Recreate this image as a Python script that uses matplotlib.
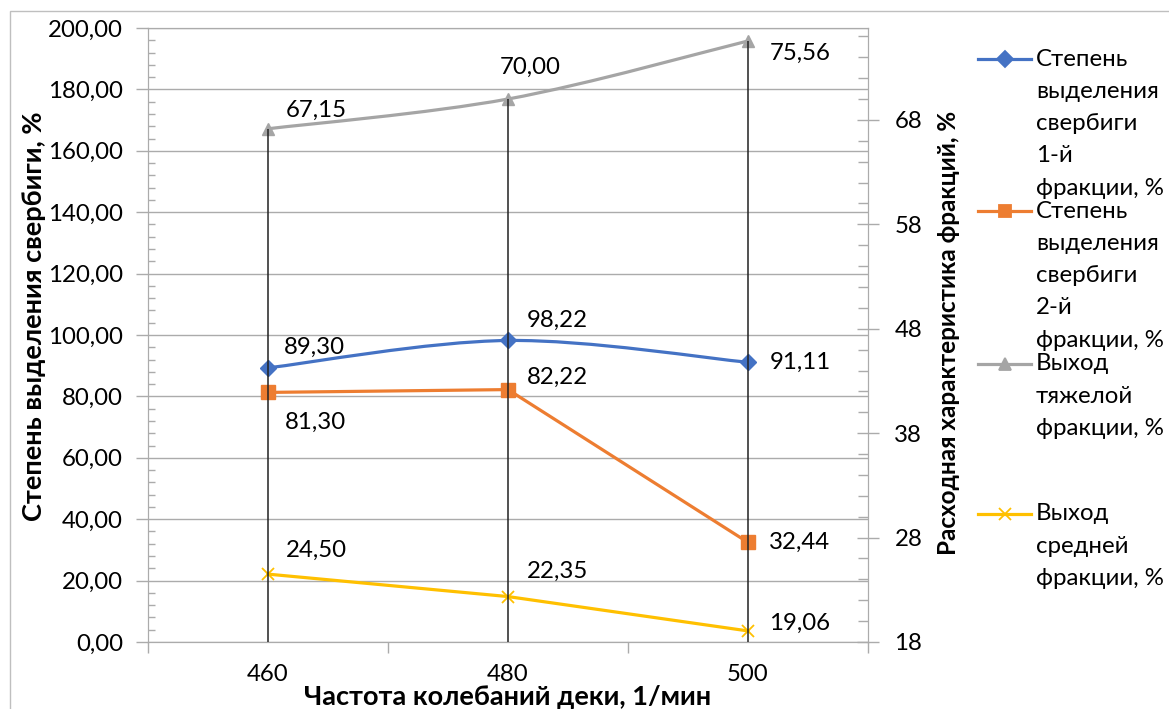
import matplotlib
matplotlib.use("Agg")
import matplotlib.pyplot as plt
import numpy as np
from matplotlib.path import Path
from matplotlib.patches import PathPatch, Rectangle
from matplotlib.lines import Line2D
from matplotlib.ticker import MultipleLocator, FixedLocator, FuncFormatter

plt.rcParams['font.family'] = ['Lato', 'DejaVu Sans']

# data
freq = ["460", "480", "500"]
stage1 = [89.30, 98.22, 91.11]     # left axis
stage2 = [81.30, 82.22, 32.44]     # left axis
heavy = [67.15, 70.00, 75.56]      # right axis
middle = [24.50, 22.35, 19.06]     # right axis

legend_lines = [["Степень", "выделения", "свербиги", "1-й", "фракции, %"],
                ["Степень", "выделения", "свербиги", "2-й", "фракции, %"],
                ["Выход", "тяжелой", "фракции, %"],
                ["Выход", "средней", "фракции, %"]]

BLUE, ORANGE, GRAY, YELLOW = "#4472C4", "#ED7D31", "#A5A5A5", "#FFC000"
W, H, DPI = 1169, 709, 100
FS = 17.3


def smooth_path(x, y):
    # cubic bezier through the points (Excel-like smoothed line)
    x = np.asarray(x, float); y = np.asarray(y, float)
    px = np.r_[x[0], x, x[-1]]; py = np.r_[y[0], y, y[-1]]
    verts = [(x[0], y[0])]
    codes = [Path.MOVETO]
    for i in range(1, len(x)):
        c1 = (px[i] + (px[i + 1] - px[i - 1]) / 6, py[i] + (py[i + 1] - py[i - 1]) / 6)
        c2 = (px[i + 1] - (px[i + 2] - px[i]) / 6, py[i + 1] - (py[i + 2] - py[i]) / 6)
        verts += [c1, c2, (x[i], y[i])]
        codes += [Path.CURVE4] * 3
    return Path(verts, codes)


fig = plt.figure(figsize=(W / DPI, H / DPI), dpi=DPI)
ax = fig.add_axes([148 / W, 1 - 642 / H, 720 / W, 614 / H])
ax2 = ax.twinx()

xs = np.arange(len(freq))

# left axis series
ax.add_patch(PathPatch(smooth_path(xs, stage1), fill=False, ec=BLUE, lw=2.3, zorder=3))
ax.plot(xs, stage1, ls="none", marker="D", ms=8, color=BLUE, zorder=4)
ax.plot(xs, stage2, color=ORANGE, lw=2.3, marker="s", ms=10, zorder=3)

# right axis series
ax2.vlines(xs, 18, heavy, color="#222222", lw=1.1, zorder=5)
ax2.add_patch(PathPatch(smooth_path(xs, heavy), fill=False, ec=GRAY, lw=2.3, zorder=3))
ax2.plot(xs, heavy, ls="none", marker="^", ms=9, color=GRAY, zorder=4)
ax2.plot(xs, middle, color=YELLOW, lw=2.3, marker="x", ms=9, mew=1.3, zorder=3)

# data labels (offsets in pixels)
def fmt(v):
    return f"{v:.2f}".replace(".", ",")

lab_off = {
    0: (ax, stage1, [(46, 21), (49, 20), (52, 0)]),
    1: (ax, stage2, [(47, -30), (49, 12), (52, 0)]),
    2: (ax2, heavy, [(48, 18), (22, 32), (52, -12)]),
    3: (ax2, middle, [(48, 24), (49, 25), (52, 8)]),
}
for k, (a, vals, offs) in lab_off.items():
    for i, v in enumerate(vals):
        a.annotate(fmt(v), (xs[i], v), xytext=offs[i], textcoords="offset pixels",
                   ha="center", va="center", fontsize=FS, color="#000000", zorder=6)

# left axis
ax.set_xlim(-0.5, 2.5)
ax.set_ylim(0, 200)
ax.yaxis.set_major_locator(MultipleLocator(20))
ax.yaxis.set_minor_locator(MultipleLocator(4))
ax.yaxis.set_major_formatter(FuncFormatter(lambda v, p: fmt(v)))
ax.grid(axis="y", which="major", color="#ababab", lw=1)
ax.set_axisbelow(True)
ax.tick_params(axis="y", which="major", direction="out", length=9, width=1, color="#ababab",
               labelsize=FS, pad=9)
ax.tick_params(axis="y", which="minor", direction="in", length=5, width=1, color="#ababab")

ax.xaxis.set_major_locator(FixedLocator([-0.5, 0.5, 1.5, 2.5]))
ax.xaxis.set_minor_locator(FixedLocator(xs))
ax.set_xticklabels([], minor=False)
ax.set_xticklabels(freq, minor=True)
ax.tick_params(axis="x", which="major", direction="out", length=8, width=1, color="#ababab")
ax.tick_params(axis="x", which="minor", length=0, labelsize=FS, pad=16)

for s in ax.spines.values():
    s.set_color("#ababab")
for s in ax2.spines.values():
    s.set_color("#ababab")

# right axis
ax2.set_ylim(18, 76.8)
ax2.yaxis.set_major_locator(FixedLocator(np.arange(18, 77, 10)))
ax2.yaxis.set_minor_locator(MultipleLocator(2))
ax2.tick_params(axis="y", which="major", direction="inout", length=16, width=1, color="#ababab",
                labelsize=FS, pad=11)
ax2.tick_params(axis="y", which="minor", direction="in", length=7, width=1, color="#ababab")

# axis titles
ax.set_xlabel("Частота колебаний деки, 1/мин", fontsize=19.5, fontweight="bold")
ax.xaxis.set_label_coords(0.5, (642 - 697) / 614)
ax.xaxis.label.set_va("center")
ax.set_ylabel("Степень выделения свербиги, %", fontsize=19.5, fontweight="bold")
ax.yaxis.set_label_coords((34 - 148) / 720, (642 - 316) / 614)
ax.yaxis.label.set_va("center")
ax2.set_ylabel("Расходная характеристика фракций, %", fontsize=17.5, fontweight="bold")
ax2.yaxis.set_label_coords((949 - 148) / 720, (642 - 333) / 614)
ax2.yaxis.label.set_va("center")

# legend, drawn by hand so the marker sits on the first line
leg_style = [(BLUE, "D", 8), (ORANGE, "s", 9), (GRAY, "^", 9), (YELLOW, "x", 9)]
leg_top = [59, 211, 364, 514]
for (c, m, ms), lines, yt in zip(leg_style, legend_lines, leg_top):
    yf = 1 - yt / H
    fig.add_artist(Line2D([978 / W, 1031 / W], [yf, yf], color=c, lw=2.3,
                          transform=fig.transFigure))
    fig.add_artist(Line2D([1005 / W], [yf], color=c, marker=m, ms=ms, mew=1.3,
                          transform=fig.transFigure))
    for j, t in enumerate(lines):
        fig.text(1036 / W, 1 - (yt + 32.3 * j) / H, t, fontsize=FS, va="center", ha="left")

# chart area border
fig.add_artist(Rectangle((10 / W, -0.1), 1.2, 1 - 11 / H + 0.1, fill=False,
                         ec="#bfbfbf", lw=1, transform=fig.transFigure))

fig.savefig("out.png", dpi=DPI)
